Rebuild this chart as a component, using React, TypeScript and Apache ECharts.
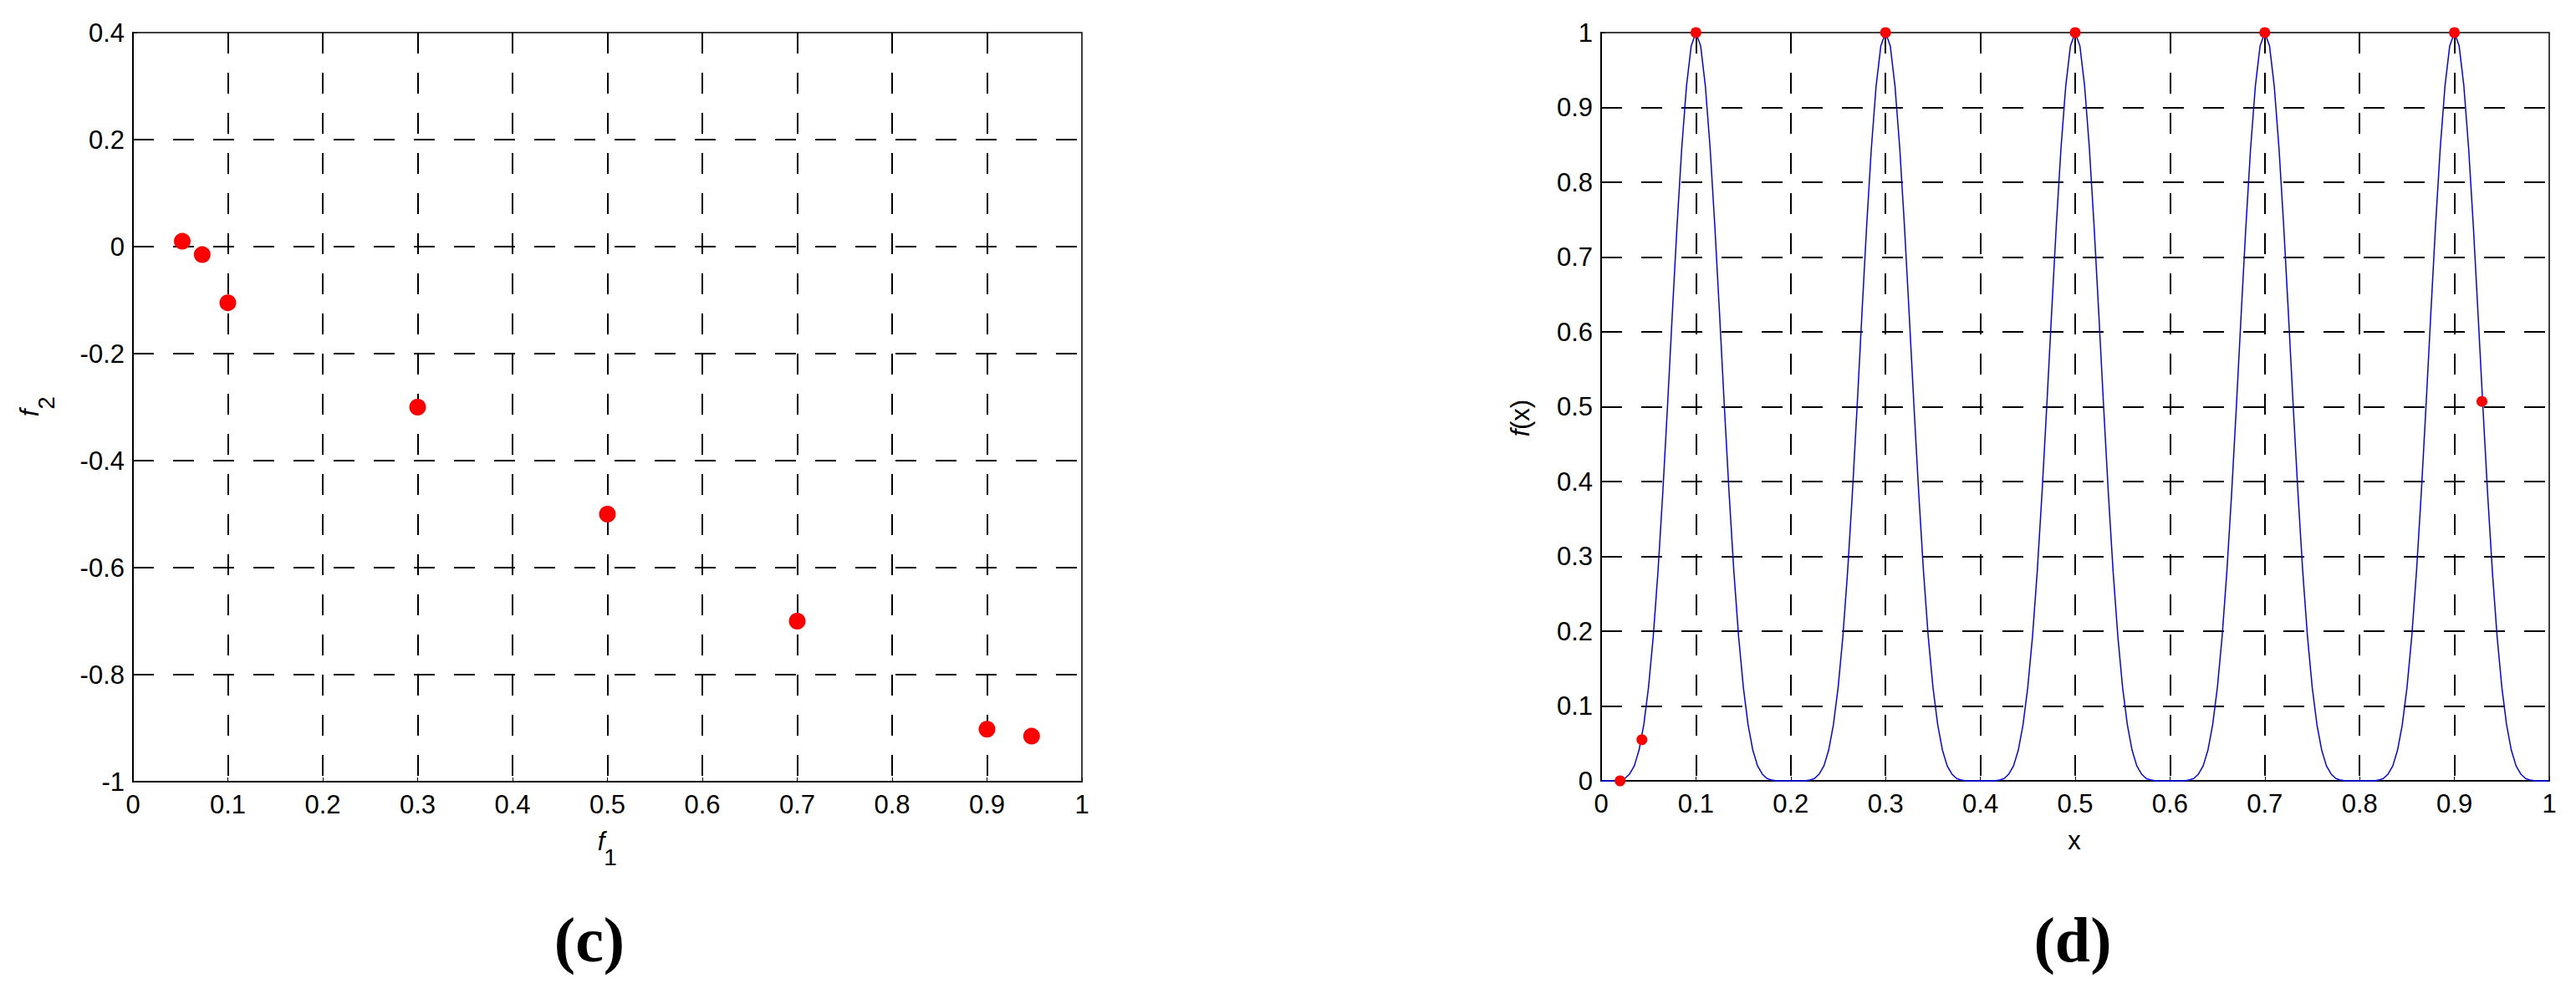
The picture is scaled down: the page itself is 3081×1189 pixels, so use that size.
import React, { useEffect, useRef } from "react";
import * as echarts from "echarts";

// ---- Panel (c): Pareto points ----
const f1Values = [0.052, 0.073, 0.1, 0.3, 0.5, 0.7, 0.9, 0.947];
const f2Values = [0.01, -0.015, -0.105, -0.3, -0.5, -0.7, -0.902, -0.915];

// ---- Panel (d): f(x) curve sampled every 0.005 on [0, 1] ----
const CURVE_STEP = 0.005;
const curveY = [
  0, 0, 0, 0, 0.001, 0.003, 0.009, 0.02, 0.041, 0.075,
  0.125, 0.193, 0.28, 0.384, 0.5, 0.622, 0.74, 0.845, 0.928, 0.982,
  1, 0.982, 0.928, 0.845, 0.74, 0.622, 0.5, 0.384, 0.28, 0.193,
  0.125, 0.075, 0.041, 0.02, 0.009, 0.003, 0.001, 0, 0, 0,
  0, 0, 0, 0, 0.001, 0.003, 0.009, 0.02, 0.041, 0.075,
  0.125, 0.193, 0.28, 0.384, 0.5, 0.622, 0.74, 0.845, 0.928, 0.982,
  1, 0.982, 0.928, 0.845, 0.74, 0.622, 0.5, 0.384, 0.28, 0.193,
  0.125, 0.075, 0.041, 0.02, 0.009, 0.003, 0.001, 0, 0, 0,
  0, 0, 0, 0, 0.001, 0.003, 0.009, 0.02, 0.041, 0.075,
  0.125, 0.193, 0.28, 0.384, 0.5, 0.622, 0.74, 0.845, 0.928, 0.982,
  1, 0.982, 0.928, 0.845, 0.74, 0.622, 0.5, 0.384, 0.28, 0.193,
  0.125, 0.075, 0.041, 0.02, 0.009, 0.003, 0.001, 0, 0, 0,
  0, 0, 0, 0, 0.001, 0.003, 0.009, 0.02, 0.041, 0.075,
  0.125, 0.193, 0.28, 0.384, 0.5, 0.622, 0.74, 0.845, 0.928, 0.982,
  1, 0.982, 0.928, 0.845, 0.74, 0.622, 0.5, 0.384, 0.28, 0.193,
  0.125, 0.075, 0.041, 0.02, 0.009, 0.003, 0.001, 0, 0, 0,
  0, 0, 0, 0, 0.001, 0.003, 0.009, 0.02, 0.041, 0.075,
  0.125, 0.193, 0.28, 0.384, 0.5, 0.622, 0.74, 0.845, 0.928, 0.982,
  1, 0.982, 0.928, 0.845, 0.74, 0.622, 0.5, 0.384, 0.28, 0.193,
  0.125, 0.075, 0.041, 0.02, 0.009, 0.003, 0.001, 0, 0, 0,
  0,
];

// ---- Panel (d): red sample points ----
const pointX = [0.02, 0.043, 0.1, 0.3, 0.5, 0.7, 0.9, 0.929];
const pointY = [0, 0.055, 1, 1, 1, 1, 1, 0.507];

const FONT = "Liberation Sans";
const SERIF = "Liberation Serif";

function axisCommon(min: number, max: number, interval: number, margin: number) {
  return {
    type: "value" as const,
    min,
    max,
    interval,
    axisLine: { show: true, onZero: false, lineStyle: { color: "#000", width: 2 } },
    axisTick: { show: true, inside: true, length: 5, lineStyle: { color: "#000", width: 1 } },
    axisLabel: { color: "#000", fontSize: 31, fontFamily: FONT, margin },
    splitLine: {
      show: true,
      showMinLine: false,
      showMaxLine: false,
      lineStyle: { color: "#000", width: 2, type: [25, 23] },
    },
  };
}

function txt(text: string, x: number, y: number, size: number, opts: any = {}) {
  return {
    type: "text",
    x,
    y,
    rotation: opts.rotation || 0,
    style: {
      text,
      font: `${opts.italic ? "italic " : ""}${opts.bold ? "bold " : ""}${size}px "${opts.family || FONT}"`,
      fill: "#000",
      align: "center",
      verticalAlign: "middle",
      textAlign: "center",
      textVerticalAlign: "middle",
    },
  };
}

export default function App() {
  const ref = useRef<HTMLDivElement>(null);

  useEffect(() => {
    document.body.style.margin = "0";
    if (!ref.current) return;
    const chart = echarts.init(ref.current, null, { renderer: "svg" });

    const leftPoints = f1Values.map((v, i) => [v, f2Values[i]]);
    const curve = curveY.map((v, i) => [+(i * CURVE_STEP).toFixed(3), v]);
    const rightPoints = pointX.map((v, i) => [v, pointY[i]]);

    const option: any = {
      animation: false,
      backgroundColor: "#fff",
      grid: [
        { left: 159, top: 39, width: 1135, height: 896, show: true, borderColor: "#000", borderWidth: 1.5 },
        { left: 1915, top: 39, width: 1134, height: 895, show: true, borderColor: "#000", borderWidth: 1.5 },
      ],
      xAxis: [
        { gridIndex: 0, ...axisCommon(0, 1, 0.1, 12) },
        { gridIndex: 1, ...axisCommon(0, 1, 0.1, 12) },
      ],
      yAxis: [
        { gridIndex: 0, ...axisCommon(-1, 0.4, 0.2, 10) },
        { gridIndex: 1, ...axisCommon(0, 1, 0.1, 10) },
      ],
      series: [
        {
          type: "scatter",
          xAxisIndex: 0,
          yAxisIndex: 0,
          data: leftPoints,
          symbol: "circle",
          symbolSize: 20,
          itemStyle: { color: "#ff0000", opacity: 1 },
          clip: false,
          z: 5,
        },
        {
          type: "line",
          xAxisIndex: 1,
          yAxisIndex: 1,
          data: curve,
          showSymbol: false,
          symbol: "none",
          lineStyle: { color: "#0000ff", width: 1.5 },
          clip: false,
          z: 3,
        },
        {
          type: "scatter",
          xAxisIndex: 1,
          yAxisIndex: 1,
          data: rightPoints,
          symbol: "circle",
          symbolSize: 13,
          itemStyle: { color: "#ff0000", opacity: 1 },
          clip: false,
          z: 6,
        },
      ],
      graphic: [
        // f1 (x-axis title, left)
        txt("f", 719, 1006, 31, { italic: true }),
        txt("1", 730, 1025, 28),
        // f2 (y-axis title, left), rotated
        txt("f", 35, 494, 31, { italic: true, rotation: Math.PI / 2 }),
        txt("2", 55, 482, 28, { rotation: Math.PI / 2 }),
        // x (x-axis title, right)
        txt("x", 2481, 1005, 31),
        // f(x) (y-axis title, right), rotated
        txt("f", 1818, 518, 31, { italic: true, rotation: Math.PI / 2 }),
        txt("(x)", 1818, 496, 31, { rotation: Math.PI / 2 }),
        // panel labels
        txt("(c)", 705, 1124, 76, { bold: true, family: SERIF }),
        txt("(d)", 2479, 1124, 76, { bold: true, family: SERIF }),
      ],
    };

    chart.setOption(option);
    return () => chart.dispose();
  }, []);

  return (
    <div
      ref={ref}
      style={{ position: "absolute", left: 0, top: 0, width: 3081, height: 1189, background: "#fff" }}
    />
  );
}
